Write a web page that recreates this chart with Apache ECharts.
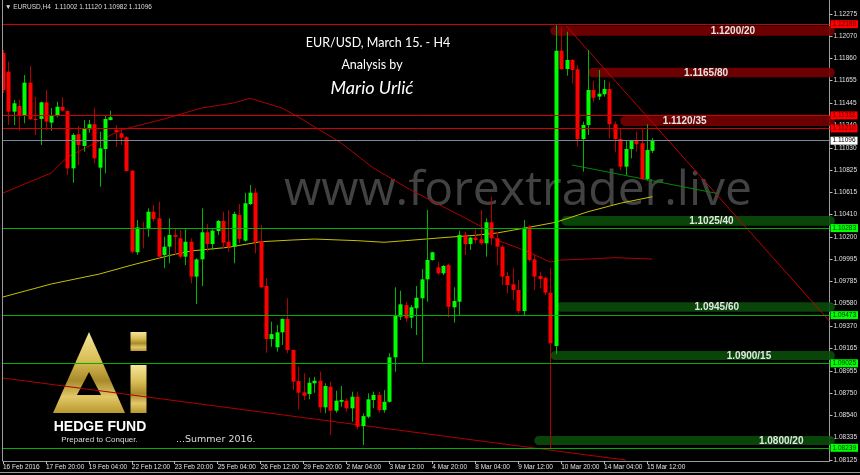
<!DOCTYPE html>
<html><head><meta charset="utf-8">
<script src="https://cdn.jsdelivr.net/npm/echarts@6/dist/echarts.min.js"></script>
<style>html,body{margin:0;padding:0;background:#000}#c{width:860px;height:475px}</style>
</head><body><div id="c"></div>
<script>
// ---- data ----
const xLabels = ['16 Feb 2016','17 Feb 20:00','19 Feb 04:00','22 Feb 12:00','23 Feb 20:00','25 Feb 04:00','26 Feb 12:00','29 Feb 20:00','2 Mar 04:00','3 Mar 12:00','4 Mar 20:00','8 Mar 04:00','9 Mar 12:00','10 Mar 20:00','14 Mar 04:00','15 Mar 12:00'];
const yTicks = [1.12275,1.12070,1.11860,1.11655,1.11445,1.11240,1.11030,1.10825,1.10615,1.10410,1.10200,1.09995,1.09785,1.09580,1.09370,1.09165,1.08955,1.08750,1.08540,1.08335,1.08125];

const opens = [1.11912,1.11738,1.11366,1.11419,1.11326,1.11636,1.11298,1.11298,1.11453,1.11264,1.11335,1.11412,1.11372,1.10839,1.11156,1.11047,1.11202,1.11249,1.10845,1.11019,1.11289,1.11196,1.11165,1.11128,1.10817,1.10058,1.10284,1.10274,1.10435,1.10374,1.10033,1.10110,1.10219,1.10188,1.10017,1.10156,1.09831,1.09992,1.10244,1.10135,1.10256,1.10349,1.10156,1.10110,1.10405,1.10166,1.10507,1.10612,1.10163,1.09744,1.09251,1.09174,1.09313,1.09437,1.09149,1.08860,1.08755,1.08739,1.08839,1.08863,1.08615,1.08807,1.08584,1.08667,1.08677,1.08606,1.08714,1.08441,1.08528,1.08683,1.08730,1.08590,1.08667,1.09081,1.09458,1.09567,1.09449,1.09537,1.09630,1.09806,1.09986,1.09918,1.09862,1.09939,1.09546,1.09598,1.10219,1.10135,1.10194,1.10179,1.10141,1.10337,1.10188,1.10110,1.09837,1.09760,1.09707,1.09511,1.10296,1.09992,1.09837,1.09821,1.09682,1.09186,1.11934,1.11763,1.11847,1.11760,1.11112,1.11242,1.11568,1.11506,1.11528,1.11577,1.11249,1.11112,1.10854,1.11019,1.11093,1.11072,1.10740,1.11002];
const highs = [1.11940,1.11831,1.11475,1.11475,1.11707,1.11791,1.11506,1.11459,1.11568,1.11400,1.11459,1.11500,1.11382,1.11165,1.11233,1.11289,1.11289,1.11398,1.11180,1.11335,1.11375,1.11242,1.11211,1.11135,1.10823,1.10358,1.10342,1.10467,1.10498,1.10528,1.10203,1.10374,1.10281,1.10265,1.10272,1.10188,1.10002,1.10467,1.10321,1.10272,1.10358,1.10435,1.10451,1.10435,1.10507,1.10612,1.10684,1.10653,1.10312,1.09816,1.09412,1.09381,1.09443,1.09630,1.09155,1.08993,1.08932,1.08891,1.08900,1.08947,1.08839,1.08853,1.08770,1.08814,1.08699,1.08761,1.08761,1.08559,1.08746,1.08761,1.08761,1.08776,1.09118,1.09732,1.09700,1.09598,1.09567,1.09744,1.09902,1.10451,1.10063,1.09970,1.09939,1.09949,1.09732,1.10259,1.10249,1.10203,1.10281,1.10451,1.10374,1.10575,1.10249,1.10126,1.09877,1.09909,1.09800,1.10358,1.10312,1.10039,1.09877,1.09831,1.09909,1.12179,1.12157,1.12110,1.11856,1.11800,1.11273,1.11940,1.11652,1.11754,1.11661,1.11645,1.11273,1.11211,1.11103,1.11103,1.11180,1.11202,1.11249,1.11120];
const lows = [1.11540,1.11242,1.11242,1.11189,1.11258,1.11289,1.11149,1.11056,1.11196,1.11189,1.11314,1.11366,1.10777,1.10705,1.10870,1.10994,1.11171,1.10886,1.10668,1.10793,1.11284,1.11037,1.11056,1.10810,1.10048,1.10033,1.10095,1.10203,1.10342,1.10002,1.09909,1.09955,1.10033,1.10002,1.09939,1.09769,1.09577,1.09744,1.10063,1.10079,1.10219,1.10095,1.10063,1.09955,1.10141,1.10156,1.10498,1.10048,1.09723,1.09123,1.09179,1.09133,1.09195,1.09118,1.08776,1.08597,1.08683,1.08690,1.08751,1.08565,1.08560,1.08358,1.08565,1.08621,1.08574,1.08481,1.08411,1.08265,1.08513,1.08606,1.08565,1.08565,1.08660,1.08947,1.09428,1.09412,1.09350,1.09288,1.09040,1.09598,1.09980,1.09846,1.09846,1.09453,1.09403,1.09465,1.10033,1.10079,1.10141,1.10126,1.10017,1.10126,1.09939,1.09753,1.09676,1.09614,1.09490,1.09468,1.09970,1.09707,1.09723,1.09660,1.08225,1.09109,1.11754,1.11701,1.11630,1.11040,1.10808,1.11149,1.11453,1.11475,1.11506,1.11118,1.10988,1.10823,1.10777,1.10932,1.10994,1.10731,1.10724,1.10982];
const closes = [1.11568,1.11366,1.11444,1.11326,1.11636,1.11295,1.11293,1.11453,1.11273,1.11335,1.11412,1.11375,1.10839,1.11149,1.11056,1.11211,1.11249,1.10932,1.11025,1.11298,1.11314,1.11177,1.11124,1.10814,1.10063,1.10290,1.10281,1.10435,1.10368,1.10017,1.10110,1.10219,1.10203,1.10017,1.10156,1.09831,1.09992,1.10244,1.10135,1.10259,1.10349,1.10147,1.10104,1.10414,1.10181,1.10514,1.10612,1.10156,1.09732,1.09251,1.09297,1.09313,1.09437,1.09149,1.08854,1.08751,1.08723,1.08844,1.08863,1.08615,1.08814,1.08584,1.08677,1.08683,1.08606,1.08714,1.08435,1.08534,1.08690,1.08730,1.08590,1.08667,1.09081,1.09465,1.09574,1.09443,1.09546,1.09635,1.09806,1.09986,1.10058,1.09862,1.09930,1.09551,1.09605,1.10219,1.10135,1.10194,1.10172,1.10141,1.10337,1.10188,1.10110,1.09831,1.09753,1.09707,1.09511,1.10287,1.09986,1.09831,1.09809,1.09682,1.09211,1.11934,1.11763,1.11847,1.11754,1.11112,1.11242,1.11568,1.11496,1.11533,1.11577,1.11249,1.11112,1.10854,1.11019,1.11093,1.11063,1.10740,1.11010,1.11096];

const maSlow = [[0,1.09642],[9,1.09763],[18,1.09856],[24,1.09939],[31,1.10028],[35,1.10070],[42,1.10104],[48,1.10156],[54,1.10172],[58,1.10181],[66,1.10166],[71,1.10151],[75,1.10166],[82,1.10194],[88,1.10216],[92,1.10237],[97,1.10281],[103,1.10337],[109,1.10435],[115,1.10514],[121,1.10575]];
const maFast = [[0,1.10609],[9,1.10796],[12,1.10944],[22,1.11196],[30,1.11298],[37,1.11400],[43,1.11447],[46,1.11491],[52,1.11400],[55,1.11317],[63,1.11075],[69,1.10842],[76,1.10637],[85,1.10405],[89,1.10300],[92,1.10172],[97,1.10079],[102,1.09967],[104,1.09986],[109,1.09995],[114,1.10008],[121,1.09995]];

const trendDown = [[104.6,1.12160],[154,1.09418]];
const trendGreen = [[105.6,1.10870],[132.9,1.10606]];
const trendLong = [[0,1.08888],[116.2,1.08125]];

const resistLevels = [1.12180,1.11331,1.11210];
const supportLevels = [1.10283,1.09473,1.09025,1.08239];
const bidPrice = 1.11096;

const zoneLabels = ['1.1200/20','1.1165/80','1.1120/35','1.1025/40','1.0945/60','1.0900/15','1.0800/20'];
const zoneKind   = ['r','r','r','g','g','g','g'];
const zoneStart  = [101.7,109.3,114.5,103.7,103.4,102.3,98.7];
const zoneLow    = [1.12073,1.11686,1.11233,1.10305,1.09505,1.09055,1.08265];
const zoneHigh   = [1.12163,1.11775,1.11326,1.10395,1.09592,1.09139,1.08348];
const zoneTextAt = [135.9,131.3,127.0,131.9,132.6,138.9,144.7];

// ---- build ----
const N = 155;
const cats = [];
for (let i = 0; i < N; i++) cats.push(i % 8 === 0 && i / 8 < xLabels.length ? xLabels[i / 8] : '');
const labelIdx = (i) => i % 8 === 0 && i / 8 < xLabels.length;
const candleData = opens.map((o, i) => [i, o, highs[i], lows[i], closes[i]]);
const zoneData = zoneLabels.map((t, i) => [zoneStart[i], 154.6, zoneLow[i], zoneHigh[i], zoneTextAt[i]]);

const chart = echarts.init(document.getElementById('c'));
const axisFont = 'Liberation Sans';
function lvl(p, bg, fg, lc) {
  return { yAxis: p, lineStyle: { color: lc, width: 1, type: 'solid' },
    label: { show: true, position: 'end', distance: 1, formatter: p.toFixed(5), backgroundColor: bg, color: fg,
      fontSize: 6.5, fontFamily: axisFont, padding: [1, 2, 0, 2], lineHeight: 7 } };
}
const levelMarks = [];
resistLevels.forEach(p => levelMarks.push(lvl(p, '#ff0000', '#5a0000', '#d00000')));
supportLevels.forEach(p => levelMarks.push(lvl(p, '#00ff00', '#003000', '#00b000')));
levelMarks.push(lvl(bidPrice, '#ffffff', '#000000', '#778899'));

const goldGrad = new echarts.graphic.LinearGradient(0, 0, 0, 1, [
  { offset: 0, color: '#f4e79a' }, { offset: 0.35, color: '#d9bd55' }, { offset: 0.6, color: '#a98a2c' },
  { offset: 0.8, color: '#e2c866' }, { offset: 1, color: '#b8982f' }]);

chart.setOption({
  backgroundColor: '#000',
  animation: false,
  grid: { left: 2.7, right: 30, top: 0, bottom: 14, containLabel: false },
  xAxis: {
    type: 'category', data: cats, boundaryGap: false,
    axisLine: { lineStyle: { color: '#9a9a9a', width: 1 } },
    axisTick: { interval: (i) => labelIdx(i), length: 3, lineStyle: { color: '#bbb' } },
    axisLabel: { interval: (i) => labelIdx(i), align: 'left', fontSize: 6.5, fontFamily: axisFont, color: '#e0e0e0', margin: 3 },
    splitLine: { show: false }
  },
  yAxis: {
    type: 'value', position: 'right', min: 1.08116, max: 1.12405, scale: true,
    axisLine: { show: true, lineStyle: { color: '#9a9a9a', width: 1 } },
    axisTick: { show: true, customValues: yTicks, length: 3, lineStyle: { color: '#bbb' } },
    axisLabel: { customValues: yTicks, formatter: (v) => v.toFixed(5), fontSize: 6.5, fontFamily: axisFont, color: '#e0e0e0', margin: 4 },
    splitLine: { show: false }
  },
  graphic: [
    { type: 'line', shape: { x1: 2.5, y1: 0, x2: 2.5, y2: 461 }, style: { stroke: '#9a9a9a', lineWidth: 1 } },
    { type: 'line', shape: { x1: 0, y1: 472.5, x2: 860, y2: 472.5 }, style: { stroke: '#9a9a9a', lineWidth: 1 } },
    { type: 'text', x: 518, y: 191, z: -1, style: { text: 'www.forextrader.live', font: '48px "Open Sans"', fill: 'rgba(110,110,110,0.6)', align: 'center', verticalAlign: 'middle' } },
    { type: 'text', x: 5, y: 7, style: { text: '\u25BC EURUSD,H4  1.11002 1.11120 1.10982 1.11096', font: '6.5px "Liberation Sans"', fill: '#dddddd', verticalAlign: 'middle' } },
    { type: 'text', x: 378, y: 43, style: { text: 'EUR/USD, March 15. - H4', font: '12.5px Lato', fill: '#ffffff', align: 'center', verticalAlign: 'middle' } },
    { type: 'text', x: 372, y: 65, style: { text: 'Analysis by', font: '12.5px Lato', fill: '#ffffff', align: 'center', verticalAlign: 'middle' } },
    { type: 'text', x: 372, y: 88, style: { text: 'Mario Urlić', font: 'italic 18px Lato', fill: '#ffffff', align: 'center', verticalAlign: 'middle' } },
    { type: 'polygon', shape: { points: [[89, 332], [53, 413], [125, 413]] }, style: { fill: goldGrad } },
    { type: 'polygon', shape: { points: [[89, 372], [77, 395], [101, 395]] }, style: { fill: '#000' } },
    { type: 'rect', shape: { x: 130.5, y: 332, width: 16, height: 19 }, style: { fill: goldGrad } },
    { type: 'rect', shape: { x: 130.5, y: 365, width: 16, height: 48 }, style: { fill: goldGrad } },
    { type: 'text', x: 100, y: 427, style: { text: 'HEDGE FUND', font: 'bold 14px "Liberation Sans"', fill: '#ffffff', align: 'center', verticalAlign: 'middle' } },
    { type: 'text', x: 99.5, y: 440, style: { text: 'Prepared to Conquer.', font: '8px "Liberation Sans"', fill: '#dddddd', align: 'center', verticalAlign: 'middle' } },
    { type: 'text', x: 176, y: 440, style: { text: '...Summer 2016.', font: '9.5px "DejaVu Sans"', fill: '#dddddd', verticalAlign: 'middle' } }
  ],
  series: [
    { type: 'custom', name: 'zones', clip: false, z: 1, data: zoneData, encode: { x: 0, y: [2, 3] },
      renderItem: (params, api) => {
        const i = params.dataIndex;
        const a = api.coord([api.value(0), api.value(3)]);
        const b = api.coord([api.value(1), api.value(2)]);
        const t = api.coord([api.value(4), (api.value(2) + api.value(3)) / 2]);
        const red = zoneKind[i] === 'r';
        return { type: 'group', children: [
          { type: 'rect', shape: { x: a[0], y: a[1], width: b[0] - a[0], height: b[1] - a[1], r: (b[1] - a[1]) / 2 },
            style: { fill: red ? 'rgba(120,0,0,0.9)' : 'rgba(10,75,10,0.9)' } },
          { type: 'text', x: t[0], y: t[1] + 0.5, style: { text: zoneLabels[i], fill: '#e6e6e6', font: 'bold 10px "Liberation Sans"', align: 'center', verticalAlign: 'middle' } }
        ] };
      } },
    { type: 'line', name: 'maSlow', data: maSlow, showSymbol: false, z: 2, lineStyle: { color: '#c8bf00', width: 1 },
      markLine: { silent: true, symbol: 'none', precision: 5, animation: false, data: levelMarks } },
    { type: 'line', name: 'maFast', data: maFast, showSymbol: false, z: 2, lineStyle: { color: '#b00000', width: 1 } },
    { type: 'line', name: 'trendDown', data: trendDown, showSymbol: false, z: 2, lineStyle: { color: '#c00000', width: 1 } },
    { type: 'line', name: 'trendGreen', data: trendGreen, showSymbol: false, z: 2, lineStyle: { color: '#008800', width: 1 } },
    { type: 'line', name: 'trendLong', data: trendLong, showSymbol: false, z: 2, lineStyle: { color: '#b00000', width: 1 } },
    { type: 'custom', name: 'EURUSD', clip: true, z: 3, data: candleData, encode: { x: 0, y: [1, 2, 3, 4] },
      renderItem: (params, api) => {
        const i = api.value(0), o = api.value(1), h = api.value(2), l = api.value(3), c = api.value(4);
        const pO = api.coord([i, o]), pC = api.coord([i, c]), pH = api.coord([i, h]), pL = api.coord([i, l]);
        const up = c >= o;
        const x = Math.round(pO[0]) + 0.5;
        const top = Math.min(pO[1], pC[1]);
        const hgt = Math.max(1, Math.abs(pO[1] - pC[1]));
        return { type: 'group', children: [
          { type: 'line', shape: { x1: x, y1: pH[1], x2: x, y2: pL[1] }, style: { stroke: up ? '#00b400' : '#b40000', lineWidth: 1 } },
          { type: 'rect', shape: { x: x - 2, y: top, width: 4, height: hgt }, style: { fill: up ? '#00ff00' : '#ff0000' } }
        ] };
      } }
  ]
});
</script></body></html>
